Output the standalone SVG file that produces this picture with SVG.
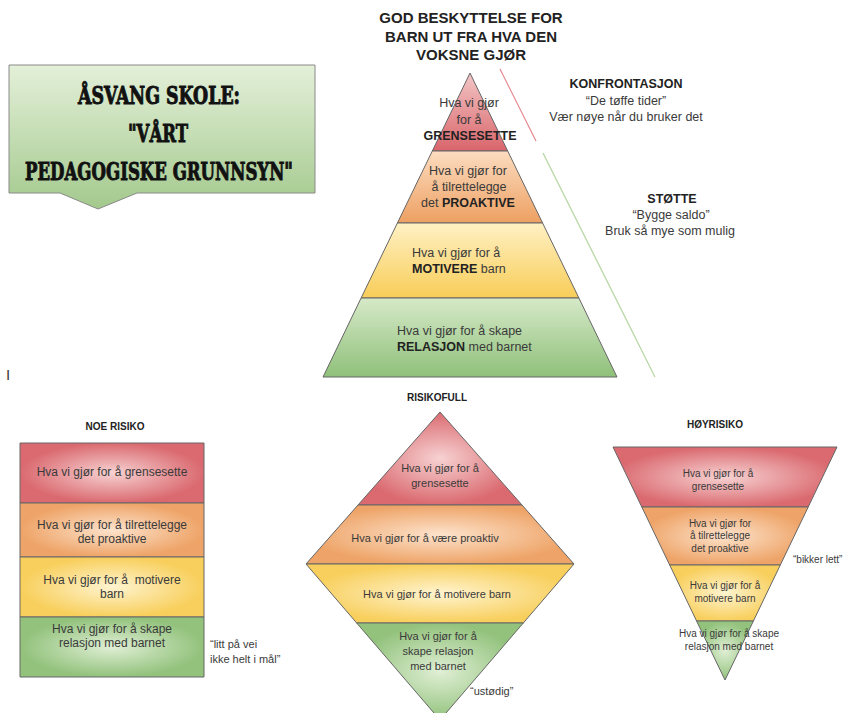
<svg xmlns="http://www.w3.org/2000/svg" width="846" height="713" viewBox="0 0 846 713">
<defs>
<linearGradient id="lBox" x1="0" y1="0" x2="0" y2="1"><stop offset="0" stop-color="#e4f0d9"/><stop offset="1" stop-color="#a3c98d"/></linearGradient>
<linearGradient id="lRed" x1="0" y1="0" x2="0" y2="1"><stop offset="0" stop-color="#f3c6c6"/><stop offset="1" stop-color="#d9656b"/></linearGradient>
<linearGradient id="lOra" x1="0" y1="0" x2="0" y2="1"><stop offset="0" stop-color="#fcdcc0"/><stop offset="1" stop-color="#eda062"/></linearGradient>
<linearGradient id="lYel" x1="0" y1="0" x2="0" y2="1"><stop offset="0" stop-color="#fff1c4"/><stop offset="1" stop-color="#f8cd58"/></linearGradient>
<linearGradient id="lGre" x1="0" y1="0" x2="0" y2="1"><stop offset="0" stop-color="#d6e9c8"/><stop offset="1" stop-color="#8fc07a"/></linearGradient>
<radialGradient id="rRed"><stop offset="0" stop-color="#f7d2d2"/><stop offset="1" stop-color="#da6a70"/></radialGradient>
<radialGradient id="rOra"><stop offset="0" stop-color="#fde3cc"/><stop offset="1" stop-color="#eea468"/></radialGradient>
<radialGradient id="rYel"><stop offset="0" stop-color="#fff4d0"/><stop offset="1" stop-color="#f8cf5c"/></radialGradient>
<radialGradient id="rGre"><stop offset="0" stop-color="#e0efd5"/><stop offset="1" stop-color="#92c27c"/></radialGradient>
<style>
.band{stroke:#666;stroke-width:1;stroke-linejoin:round}
.t{font-family:"Liberation Sans",Arial,sans-serif;fill:#3a3a3a;text-anchor:middle}
.s{font-family:"Liberation Sans",Arial,sans-serif;fill:#3a3a3a}
.h{font-family:"Liberation Sans",Arial,sans-serif;fill:#222;font-weight:bold;text-anchor:middle}
.b{font-weight:bold;fill:#222}
.title{font-family:"DejaVu Serif","Liberation Serif",serif;font-weight:bold;font-size:24px;fill:#111;stroke:#111;stroke-width:0.9;text-anchor:middle;font-stretch:condensed}
</style>
</defs>
<rect width="846" height="713" fill="#ffffff"/>

<g id="school-box">
<path d="M9,65 H315 V193 H137 L98,209 L60,193 H9 Z" fill="url(#lBox)" stroke="#8a8a8a" stroke-width="1"/>
<text class="title" x="159" y="104" textLength="162" lengthAdjust="spacingAndGlyphs">ÅSVANG SKOLE:</text>
<text class="title" x="158" y="142" textLength="60" lengthAdjust="spacingAndGlyphs">"VÅRT</text>
<text class="title" x="159" y="180" textLength="268" lengthAdjust="spacingAndGlyphs">PEDAGOGISKE GRUNNSYN"</text>
</g>

<g id="main-title">
<text class="h" font-size="15" x="471" y="23">GOD BESKYTTELSE FOR</text>
<text class="h" font-size="15" x="471" y="42">BARN UT FRA HVA DEN</text>
<text class="h" font-size="15" x="471" y="60">VOKSNE GJØR</text>
</g>

<g id="main-pyramid">
<g id="mp-red">
<polygon class="band" points="470,73 507.7,151 432.3,151" fill="url(#lRed)"/>
<text class="t" font-size="12.5" x="469" y="107">Hva vi gjør</text>
<text class="t" font-size="12.5" x="469" y="124">for å</text>
<text class="t b" font-size="12.5" x="470" y="140">GRENSESETTE</text>
</g>
<g id="mp-orange">
<polygon class="band" points="432.3,151 507.7,151 542.6,223 397.4,223" fill="url(#lOra)"/>
<text class="t" font-size="12.5" x="468" y="175">Hva vi gjør for</text>
<text class="t" font-size="12.5" x="469" y="191">å tilrettelegge</text>
<text class="t" font-size="12.5" x="468" y="207">det <tspan class="b">PROAKTIVE</tspan></text>
</g>
<g id="mp-yellow">
<polygon class="band" points="397.4,223 542.6,223 578.9,298 361.1,298" fill="url(#lYel)"/>
<text class="s" font-size="12.5" x="412" y="257">Hva vi gjør for å</text>
<text class="s" font-size="12.5" x="412" y="273"><tspan class="b">MOTIVERE</tspan> barn</text>
</g>
<g id="mp-green">
<polygon class="band" points="361.1,298 578.9,298 617,377 323,377" fill="url(#lGre)"/>
<text class="s" font-size="12.5" x="397" y="335">Hva vi gjør for å skape</text>
<text class="s" font-size="12.5" x="397" y="351"><tspan class="b">RELASJON</tspan> med barnet</text>
</g>
</g>

<g id="connectors">
<line x1="500" y1="69" x2="536" y2="141" stroke="#e8868c" stroke-width="1.2"/>
<line x1="543" y1="153" x2="655" y2="377" stroke="#b4d69f" stroke-width="1.2"/>
</g>

<g id="konfrontasjon">
<text class="h" font-size="12.5" x="626" y="88">KONFRONTASJON</text>
<text class="t" font-size="12.5" x="626" y="105">“De tøffe tider”</text>
<text class="t" font-size="12.5" x="626" y="121">Vær nøye når du bruker det</text>
</g>

<g id="stotte">
<text class="h" font-size="12.5" x="672" y="203">STØTTE</text>
<text class="t" font-size="12.5" x="671" y="219">“Bygge saldo”</text>
<text class="t" font-size="12.5" x="670" y="235">Bruk så mye som mulig</text>
</g>

<text class="s" font-size="15" x="6" y="380" fill="#222">I</text>

<g id="noe-risiko">
<text class="h" font-size="10" x="115" y="430">NOE RISIKO</text>
<g id="nr-red">
<rect class="band" x="20" y="443" width="184" height="60" fill="url(#rRed)"/>
<text class="t" font-size="12" x="112" y="476">Hva vi gjør for å grensesette</text>
</g>
<g id="nr-orange">
<rect class="band" x="20" y="503" width="184" height="54" fill="url(#rOra)"/>
<text class="t" font-size="12" x="112" y="529">Hva vi gjør for å tilrettelegge</text>
<text class="t" font-size="12" x="112" y="543">det proaktive</text>
</g>
<g id="nr-yellow">
<rect class="band" x="20" y="557" width="184" height="60" fill="url(#rYel)"/>
<text class="t" font-size="12" x="112" y="584" xml:space="preserve">Hva vi gjør for å  motivere</text>
<text class="t" font-size="12" x="112" y="598">barn</text>
</g>
<g id="nr-green">
<rect class="band" x="20" y="617" width="184" height="60" fill="url(#rGre)"/>
<text class="t" font-size="12" x="112" y="633">Hva vi gjør for å skape</text>
<text class="t" font-size="12" x="112" y="647">relasjon med barnet</text>
</g>
<text class="s" font-size="11" x="210" y="648">“litt på vei</text>
<text class="s" font-size="11" x="210" y="663">ikke helt i mål”</text>
</g>

<g id="risikofull">
<text class="h" font-size="10" x="437" y="401">RISIKOFULL</text>
<g id="rf-red">
<polygon class="band" points="440,412 522,505 358,505" fill="url(#rRed)"/>
<text class="t" font-size="11" x="440" y="472">Hva vi gjør for å</text>
<text class="t" font-size="11" x="440" y="487">grensesette</text>
</g>
<g id="rf-orange">
<polygon class="band" points="358,505 522,505 574,564 306,564" fill="url(#rOra)"/>
<text class="t" font-size="11" x="425" y="542">Hva vi gjør for å være proaktiv</text>
</g>
<g id="rf-yellow">
<polygon class="band" points="306,564 574,564 523.3,623 356.7,623" fill="url(#rYel)"/>
<text class="t" font-size="11" x="437" y="598">Hva vi gjør for å motivere barn</text>
</g>
<g id="rf-green">
<polygon class="band" points="356.7,623 523.3,623 440,720" fill="url(#rGre)"/>
<text class="t" font-size="11" x="438" y="640">Hva vi gjør for å</text>
<text class="t" font-size="11" x="438" y="655">skape relasjon</text>
<text class="t" font-size="11" x="438" y="670">med barnet</text>
</g>
<text class="s" font-size="11" x="470" y="695">“ustødig”</text>
</g>

<g id="hoyrisiko">
<text class="h" font-size="10" x="715" y="428">HØYRISIKO</text>
<g id="hr-red">
<polygon class="band" points="613,447 837,447 808.2,507 641.8,507" fill="url(#rRed)"/>
<text class="t" font-size="10" x="718" y="477">Hva vi gjør for å</text>
<text class="t" font-size="10" x="718" y="490">grensesette</text>
</g>
<g id="hr-orange">
<polygon class="band" points="641.8,507 808.2,507 780.3,565 669.7,565" fill="url(#rOra)"/>
<text class="t" font-size="10" x="720" y="527">Hva vi gjør for</text>
<text class="t" font-size="10" x="720" y="539">å tilrettelegge</text>
<text class="t" font-size="10" x="720" y="552">det proaktive</text>
</g>
<g id="hr-yellow">
<polygon class="band" points="669.7,565 780.3,565 753.4,621 696.6,621" fill="url(#rYel)"/>
<text class="t" font-size="10" x="725" y="589">Hva vi gjør for å</text>
<text class="t" font-size="10" x="725" y="602">motivere barn</text>
</g>
<g id="hr-green">
<polygon class="band" points="696.6,621 753.4,621 725,680" fill="url(#rGre)"/>
<text class="t" font-size="10" x="729" y="637">Hva vi gjør for å skape</text>
<text class="t" font-size="10" x="729" y="650">relasjon med barnet</text>
</g>
<text class="s" font-size="10" x="793" y="563">“bikker lett”</text>
</g>
</svg>
